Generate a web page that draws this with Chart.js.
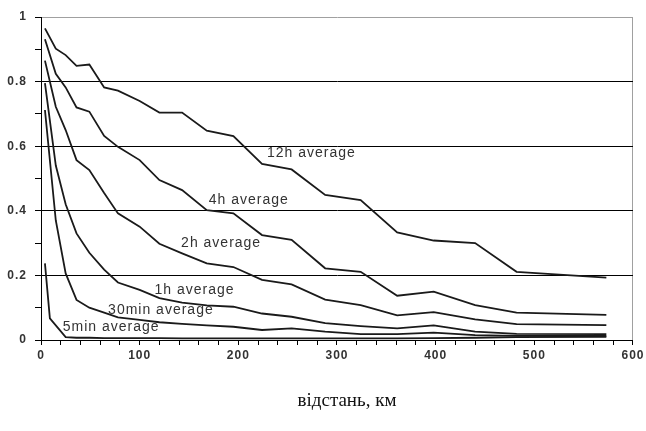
<!DOCTYPE html>
<html>
<head>
<meta charset="utf-8">
<script src="https://cdn.jsdelivr.net/npm/chart.js@4.4.0/dist/chart.umd.min.js"></script>
<style>
  html, body { margin: 0; padding: 0; background: #fff; }
</style>
</head>
<body>
<canvas id="chart" width="646" height="431"></canvas>
<script>
// distance, km (shared x positions of the curve vertices)
const distKm = [4, 15, 25, 36, 49, 64, 78, 100, 120, 143, 168, 195, 224, 254, 288, 324, 361, 398, 440, 482, 573];
const dist5min = [4, 9, 25, 36, 49, 64, 78, 100, 120, 143, 168, 195, 224, 254, 288, 324, 361, 398, 440, 482, 573];

const avg12h = [0.965, 0.902, 0.882, 0.849, 0.853, 0.782, 0.772, 0.740, 0.704, 0.704, 0.648, 0.631, 0.545, 0.528, 0.449, 0.433, 0.333, 0.308, 0.300, 0.211, 0.193];
const avg4h = [0.931, 0.824, 0.782, 0.720, 0.707, 0.632, 0.598, 0.557, 0.495, 0.464, 0.402, 0.392, 0.325, 0.310, 0.222, 0.211, 0.137, 0.150, 0.108, 0.085, 0.078];
const avg2h = [0.865, 0.722, 0.650, 0.557, 0.526, 0.455, 0.392, 0.351, 0.298, 0.268, 0.237, 0.226, 0.186, 0.172, 0.125, 0.108, 0.076, 0.086, 0.064, 0.049, 0.046];
const avg1h = [0.795, 0.540, 0.420, 0.330, 0.270, 0.218, 0.178, 0.155, 0.130, 0.116, 0.107, 0.103, 0.082, 0.072, 0.052, 0.043, 0.036, 0.045, 0.026, 0.019, 0.018];
const avg30min = [0.712, 0.370, 0.206, 0.124, 0.100, 0.085, 0.070, 0.062, 0.055, 0.050, 0.045, 0.041, 0.031, 0.036, 0.026, 0.018, 0.018, 0.023, 0.015, 0.013, 0.013];
const avg5min = [0.237, 0.067, 0.009, 0.007, 0.007, 0.006, 0.006, 0.006, 0.006, 0.005, 0.005, 0.005, 0.005, 0.005, 0.005, 0.005, 0.005, 0.006, 0.007, 0.009, 0.010];

// curve captions, anchored in data units (left edge, middle)
const curveNames = ["12h average", "4h average", "2h average", "1h average", "30min average", "5min average"];
const captionKm = [229, 170, 142, 115, 68, 22];
const captionVal = [0.579, 0.433, 0.300, 0.155, 0.093, 0.040];

const xTitle = "відстань, км";

const series = [
  [distKm, avg12h], [distKm, avg4h], [distKm, avg2h],
  [distKm, avg1h], [distKm, avg30min], [dist5min, avg5min]
];

const captions = {
  id: "captions",
  afterDatasetsDraw(chart) {
    const { ctx, scales: { x, y } } = chart;
    ctx.save();
    ctx.font = "14px 'Liberation Sans', Arial, sans-serif";
    ctx.letterSpacing = "1px";
    ctx.fillStyle = "#333";
    ctx.textAlign = "left";
    ctx.textBaseline = "middle";
    curveNames.forEach((name, i) => {
      ctx.fillText(name, x.getPixelForValue(captionKm[i]), y.getPixelForValue(captionVal[i]));
    });
    // axis title under the chart
    ctx.letterSpacing = "0px";
    ctx.font = "19px 'Liberation Serif', 'Times New Roman', serif";
    ctx.fillStyle = "#111";
    ctx.textAlign = "center";
    ctx.fillText(xTitle, 347, 401);
    ctx.restore();
  }
};

const spacing = {
  id: "spacing",
  beforeDraw(chart) { chart.ctx.letterSpacing = "1px"; }
};

const tickFont = { family: "'Liberation Sans', Arial, sans-serif", size: 12, weight: "bold" };

new Chart(document.getElementById("chart"), {
  type: "line",
  data: {
    datasets: series.map(([xs, ys]) => ({
      data: xs.map((d, i) => ({ x: d, y: ys[i] })),
      borderColor: "#1a1a1a",
      borderWidth: 1.8,
      pointRadius: 0,
      tension: 0,
      fill: false
    }))
  },
  options: {
    responsive: false,
    animation: false,
    layout: { padding: { top: 17, right: 11, left: 0, bottom: 0 } },
    plugins: { legend: { display: false }, tooltip: { enabled: false } },
    scales: {
      x: {
        type: "linear",
        min: 0,
        max: 600,
        afterFit: s => { s.height = 91; },
        ticks: {
          stepSize: 20,
          autoSkip: false,
          maxRotation: 0,
          padding: 3,
          color: "#333",
          font: tickFont,
          callback: v => (Math.round(v) % 100 === 0 ? String(Math.round(v)) : "")
        },
        grid: {
          color: c => (c.tick && Math.round(c.tick.value) === 600 ? "#a0a0a0" : "rgba(0,0,0,0)"),
          tickColor: "#000",
          tickLength: 5,
          lineWidth: 1
        },
        border: { color: "#000", width: 1 }
      },
      y: {
        min: 0,
        max: 1,
        afterFit: s => { s.width = 41; },
        ticks: {
          stepSize: 0.1,
          autoSkip: false,
          padding: 8,
          color: "#333",
          font: tickFont,
          callback: v => {
            const t = Math.round(v * 10);
            return t % 2 === 0 ? String(t / 10) : "";
          }
        },
        grid: {
          color: c => {
            const t = Math.round(c.tick.value * 10);
            if (t === 10) return "#a0a0a0";
            if (t > 0 && t % 2 === 0) return "#000";
            return "rgba(0,0,0,0)";
          },
          tickColor: "#000",
          tickLength: 6,
          lineWidth: 1
        },
        border: { color: "#000", width: 1 }
      }
    }
  },
  plugins: [spacing, captions]
});
</script>
</body>
</html>
